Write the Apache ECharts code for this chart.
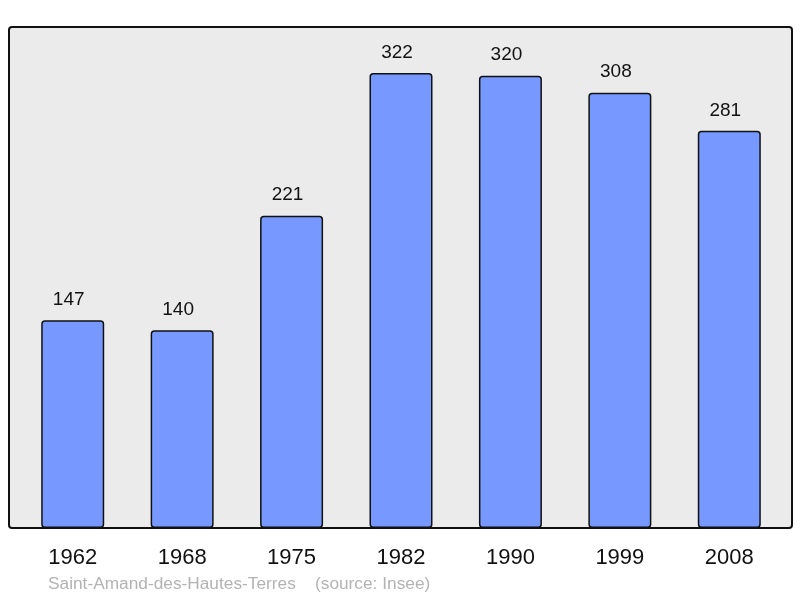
<!DOCTYPE html>
<html><head><meta charset="utf-8">
<script src="https://cdn.jsdelivr.net/npm/echarts@6/dist/echarts.min.js"></script>
<style>html,body{margin:0;padding:0;background:#fff}#c{width:800px;height:598px}</style>
</head><body><div id="c"></div>
<script>
const categories = ['1962','1968','1975','1982','1990','1999','2008'];
const values = [147,140,221,322,320,308,281];
const footer = 'Saint-Amand-des-Hautes-Terres    (source: Insee)';

const chart = echarts.init(document.getElementById('c'), null, {renderer:'canvas'});
chart.setOption({
  animation:false,
  backgroundColor:'#ffffff',
  graphic:[
    {type:'rect', z:-1, shape:{x:9,y:27,width:783,height:501,r:3},
     style:{fill:'#ebebeb', stroke:'#111', lineWidth:2}},
    {type:'text', left:48, top:576, style:{text:footer, fill:'#b3b3b3', font:'17.3px "Liberation Sans", Arial, sans-serif'}}
  ],
  grid:{left:18, right:16, top:27, bottom:70},
  xAxis:{type:'category', data:categories,
    axisLine:{show:false}, axisTick:{show:false},
    axisLabel:{color:'#111', fontSize:22, fontFamily:'Liberation Sans', margin:19}},
  yAxis:{type:'value', min:0, max:354.5, show:false, splitLine:{show:false}},
  series:[{type:'bar', data:values, barWidth:63,
    itemStyle:{color:'#7799ff', borderColor:'#111', borderWidth:1.5, borderRadius:3},
    label:{show:true, position:'top', distance:11, offset:[-4,0], color:'#111', fontSize:19, fontFamily:'Liberation Sans'}}]
});
</script></body></html>
